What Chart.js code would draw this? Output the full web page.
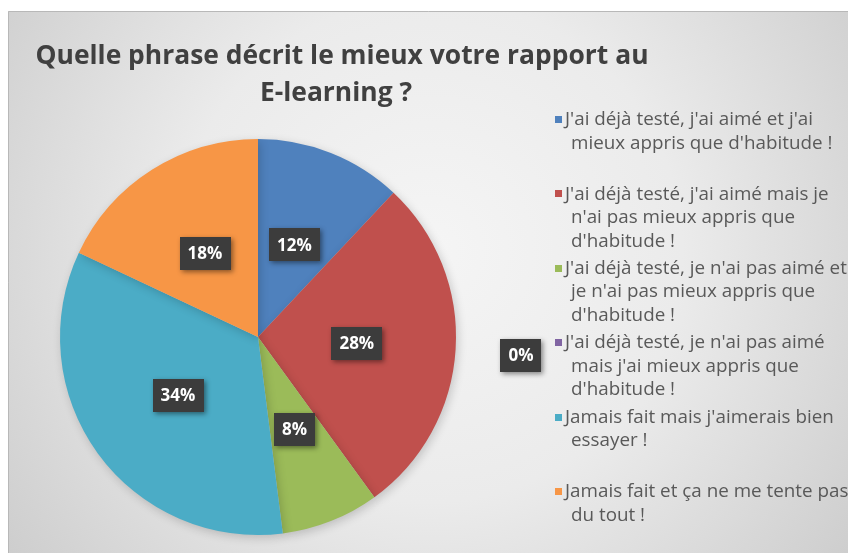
<!DOCTYPE html>
<html>
<head>
<meta charset="utf-8">
<script src="https://cdn.jsdelivr.net/npm/chart.js@4.4.0/dist/chart.umd.min.js"></script>
<style>
    html, body { margin: 0; padding: 0; background: #fff; }
</style>
</head>
<body>
<canvas id="pieChart" width="848" height="553"></canvas>
<script>
let titleLines = ['Quelle phrase décrit le mieux votre rapport au', 'E-learning ?'];
let categories = [
    ["J'ai déjà testé, j'ai aimé et j'ai", "mieux appris que d'habitude !"],
    ["J'ai déjà testé, j'ai aimé mais je", "n'ai pas mieux appris que", "d'habitude !"],
    ["J'ai déjà testé, je n'ai pas aimé et", "je n'ai pas mieux appris que", "d'habitude !"],
    ["J'ai déjà testé, je n'ai pas aimé", "mais j'ai mieux appris que", "d'habitude !"],
    ["Jamais fait mais j'aimerais bien", "essayer !"],
    ["Jamais fait et ça ne me tente pas", "du tout !"]
];
let percentages = [12, 28, 8, 0, 34, 18];
let sliceColors = ['#4f81bd', '#c0504d', '#9bbb59', '#8064a2', '#4bacc6', '#f79646'];

// squeeze text horizontally so it fits the narrow office font look
function drawText(ctx, text, x, y, sx, align) {
    ctx.save();
    ctx.translate(x, y);
    ctx.scale(sx, 1);
    ctx.textAlign = align;
    ctx.fillText(text, 0, 0);
    ctx.restore();
}

let backgroundPlugin = {
    id: 'frameBackground',
    beforeDraw(chart) {
        let ctx = chart.ctx;
        ctx.save();
        ctx.fillStyle = '#ffffff';
        ctx.fillRect(0, 0, chart.width, chart.height);
        let grad = ctx.createRadialGradient(430, 250, 0, 430, 250, 560);
        grad.addColorStop(0, '#f5f5f5');
        grad.addColorStop(0.45, '#ebebeb');
        grad.addColorStop(1, '#c9c9c9');
        ctx.fillStyle = grad;
        ctx.fillRect(8, 11, chart.width - 8, chart.height - 11);
        ctx.strokeStyle = '#b8b8b8';
        ctx.lineWidth = 1;
        ctx.beginPath();
        ctx.moveTo(8.5, chart.height);
        ctx.lineTo(8.5, 11.5);
        ctx.lineTo(chart.width, 11.5);
        ctx.stroke();
        ctx.restore();
    },
    beforeDatasetsDraw(chart) {
        let ctx = chart.ctx;
        ctx.save();
        ctx.shadowColor = 'rgba(0, 0, 0, 0.18)';
        ctx.shadowBlur = 10;
        ctx.shadowOffsetX = 2;
        ctx.shadowOffsetY = 3;
    },
    afterDatasetsDraw(chart) {
        chart.ctx.restore();
    }
};

let valueLabelPlugin = {
    id: 'valueLabels',
    afterDatasetsDraw(chart) {
        let ctx = chart.ctx;
        let meta = chart.getDatasetMeta(0);
        ctx.save();
        ctx.font = 'bold 17px "Open Sans"';
        ctx.textBaseline = 'middle';
        meta.data.forEach((arc, i) => {
            let p = arc.getProps(['x', 'y', 'startAngle', 'endAngle', 'outerRadius'], true);
            let mid = (p.startAngle + p.endAngle) / 2;
            let r = p.outerRadius * 0.5;
            let x = p.x + Math.cos(mid) * r;
            let y = p.y + Math.sin(mid) * r;
            if (percentages[i] === 0) {
                // empty slice: label pushed out to the right of the pie
                x = p.x + p.outerRadius + 65;
                y = p.y + 18;
            }
            let text = percentages[i] + '%';
            let w = ctx.measureText(text).width + 16;
            let h = 33;
            ctx.shadowColor = 'rgba(0, 0, 0, 0.45)';
            ctx.shadowBlur = 5;
            ctx.shadowOffsetX = 2;
            ctx.shadowOffsetY = 2;
            ctx.fillStyle = '#3c3c3c';
            ctx.fillRect(Math.round(x - w / 2), Math.round(y - h / 2), Math.round(w), h);
            ctx.shadowColor = 'transparent';
            ctx.fillStyle = '#ffffff';
            ctx.textAlign = 'center';
            ctx.fillText(text, x, y + 1);
        });
        ctx.restore();
    }
};

let titleLegendPlugin = {
    id: 'titleLegend',
    afterDraw(chart) {
        let ctx = chart.ctx;
        ctx.save();
        ctx.textBaseline = 'middle';

        ctx.font = 'bold 27px "Open Sans"';
        ctx.fillStyle = '#404040';
        let tsx = 613 / ctx.measureText(titleLines[0]).width;
        drawText(ctx, titleLines[0], 342, 56, tsx, 'center');
        drawText(ctx, titleLines[1], 336, 93, tsx, 'center');

        ctx.font = '18px "Open Sans"';
        let lsx = 248 / ctx.measureText(categories[0][0]).width;
        categories.forEach((lines, i) => {
            let top = 120 + i * 74.4;
            ctx.fillStyle = sliceColors[i];
            ctx.fillRect(555, Math.round(top - 4), 7, 7);
            ctx.fillStyle = '#595959';
            lines.forEach((line, j) => {
                drawText(ctx, line, j === 0 ? 565 : 571, top + j * 23.5, lsx, 'left');
            });
        });
        ctx.restore();
    }
};

let chart = new Chart(document.getElementById('pieChart').getContext('2d'), {
    type: 'pie',
    data: {
        labels: categories,
        datasets: [{
            data: percentages,
            backgroundColor: sliceColors,
            borderWidth: 0
        }]
    },
    options: {
        responsive: false,
        animation: false,
        layout: {
            padding: { left: 60, right: 392, top: 139, bottom: 18 }
        },
        plugins: {
            legend: { display: false },
            title: { display: false },
            tooltip: { enabled: false }
        }
    },
    plugins: [backgroundPlugin, valueLabelPlugin, titleLegendPlugin]
});
</script>
</body>
</html>
